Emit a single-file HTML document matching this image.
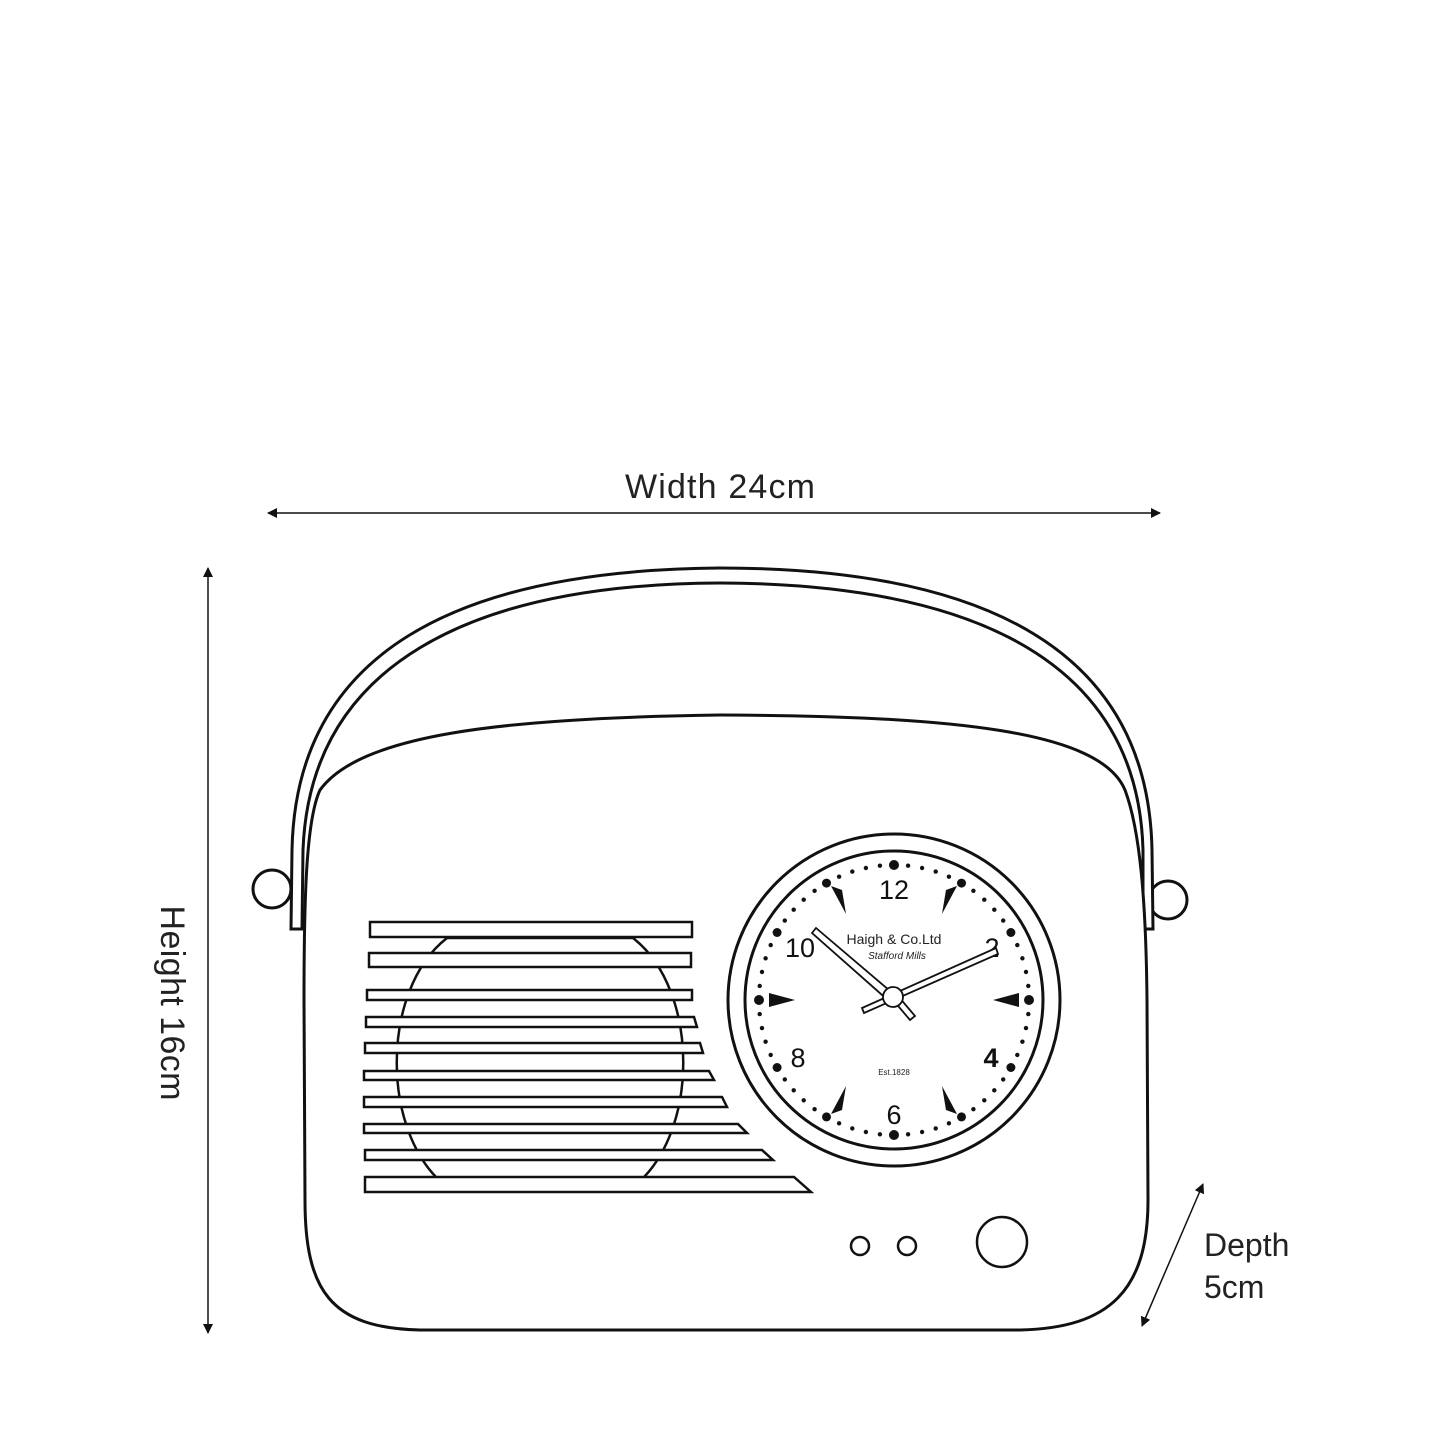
<!DOCTYPE html>
<html><head><meta charset="utf-8"><style>
html,body{margin:0;padding:0;background:#fff;}
svg{display:block;}
text{font-family:"Liberation Sans",sans-serif;}
</style></head><body>
<svg width="1445" height="1445" viewBox="0 0 1445 1445" xmlns="http://www.w3.org/2000/svg">
<defs>
<marker id="ah" viewBox="0 0 10 10" refX="9" refY="5" markerWidth="10" markerHeight="10" markerUnits="userSpaceOnUse" orient="auto-start-reverse"><path d="M0 0 L10 5 L0 10 Z" fill="#111"/></marker>
</defs>
<rect width="1445" height="1445" fill="#fff"/>
<line x1="268" y1="513" x2="1160" y2="513" stroke="#111" stroke-width="1.5" marker-start="url(#ah)" marker-end="url(#ah)"/>
<text x="720" y="498" font-size="34" text-anchor="middle" fill="#222" textLength="190">Width 24cm</text>
<line x1="208" y1="568" x2="208" y2="1333" stroke="#111" stroke-width="1.5" marker-start="url(#ah)" marker-end="url(#ah)"/>
<text x="0" y="0" font-size="34" text-anchor="middle" fill="#222" transform="translate(161,1003) rotate(90)" textLength="195">Height 16cm</text>
<line x1="1203" y1="1184" x2="1142" y2="1326" stroke="#111" stroke-width="1.5" marker-start="url(#ah)" marker-end="url(#ah)"/>
<text x="1204" y="1256" font-size="32" fill="#222">Depth</text>
<text x="1204" y="1298" font-size="32" fill="#222">5cm</text>

<g fill="none" stroke="#111" stroke-width="3">
<circle cx="272" cy="889" r="19" fill="#fff"/>
<circle cx="1168" cy="900" r="19" fill="#fff"/>
<path d="M291 929 L292 850 C296 650 460 570 720 568 C985 568 1148 650 1152 850 L1153 929 L1143 929 L1143 850 C1138 665 980 584 720 583 C470 584 310 665 303 850 L302 929 Z" fill="#fff"/>
<path d="M320 790 C360 735 500 718 720 715 C950 716 1100 730 1125 790 C1140 830 1146 900 1147 1000 L1148 1200 C1148 1290 1110 1328 1020 1330 L420 1330 C330 1328 305 1290 305 1200 L304 1000 C304 900 306 820 320 790 Z" fill="#fff"/>
<path d="M447 938 L633 938 C700 990 700 1135 633 1187 L447 1187 C380 1135 380 990 447 938 Z" stroke-width="2.5"/>
<g fill="#fff" stroke-width="2.5">
<path d="M370 922 L692 922 L692 937 L370 937 Z"/>
<path d="M369 953 L691 953 L691 967 L369 967 Z"/>
<path d="M367 990 L692 990 L692 1000 L367 1000 Z"/>
<path d="M366 1017 L694 1017 L697 1027 L366 1027 Z"/>
<path d="M365 1043 L700 1043 L703 1053 L365 1053 Z"/>
<path d="M364 1071 L709 1071 L714 1080 L364 1080 Z"/>
<path d="M364 1097 L722 1097 L727 1107 L364 1107 Z"/>
<path d="M364 1124 L738 1124 L747 1133 L364 1133 Z"/>
<path d="M365 1150 L762 1150 L773 1160 L365 1160 Z"/>
<path d="M365 1177 L794 1177 L811 1192 L365 1192 Z"/>
</g>
<circle cx="860" cy="1246" r="9" stroke-width="2.5"/>
<circle cx="907" cy="1246" r="9" stroke-width="2.5"/>
<circle cx="1002" cy="1242" r="25" stroke-width="2.5"/>
<circle cx="894" cy="1000" r="166"/>
<circle cx="894" cy="1000" r="149"/>
</g>
<g fill="#111">
<circle cx="894" cy="865" r="5"/><circle cx="1029" cy="1000" r="5"/><circle cx="894" cy="1135" r="5"/><circle cx="759" cy="1000" r="5"/>
<circle cx="961.5" cy="883.1" r="4.5"/><circle cx="1010.9" cy="932.5" r="4.5"/><circle cx="1010.9" cy="1067.5" r="4.5"/><circle cx="961.5" cy="1116.9" r="4.5"/>
<circle cx="826.5" cy="1116.9" r="4.5"/><circle cx="777.1" cy="1067.5" r="4.5"/><circle cx="777.1" cy="932.5" r="4.5"/><circle cx="826.5" cy="883.1" r="4.5"/>
<circle cx="908.1" cy="865.7" r="2.2"/><circle cx="922.1" cy="868" r="2.2"/><circle cx="935.7" cy="871.6" r="2.2"/><circle cx="948.9" cy="876.7" r="2.2"/>
<circle cx="973.4" cy="890.8" r="2.2"/><circle cx="984.3" cy="899.7" r="2.2"/><circle cx="994.3" cy="909.7" r="2.2"/><circle cx="1003.2" cy="920.6" r="2.2"/>
<circle cx="1017.3" cy="945.1" r="2.2"/><circle cx="1022.4" cy="958.3" r="2.2"/><circle cx="1026" cy="971.9" r="2.2"/><circle cx="1028.3" cy="985.9" r="2.2"/>
<circle cx="1028.3" cy="1014.1" r="2.2"/><circle cx="1026" cy="1028.1" r="2.2"/><circle cx="1022.4" cy="1041.7" r="2.2"/><circle cx="1017.3" cy="1054.9" r="2.2"/>
<circle cx="1003.2" cy="1079.4" r="2.2"/><circle cx="994.3" cy="1090.3" r="2.2"/><circle cx="984.3" cy="1100.3" r="2.2"/><circle cx="973.4" cy="1109.2" r="2.2"/>
<circle cx="948.9" cy="1123.3" r="2.2"/><circle cx="935.7" cy="1128.4" r="2.2"/><circle cx="922.1" cy="1132" r="2.2"/><circle cx="908.1" cy="1134.3" r="2.2"/>
<circle cx="879.9" cy="1134.3" r="2.2"/><circle cx="865.9" cy="1132" r="2.2"/><circle cx="852.3" cy="1128.4" r="2.2"/><circle cx="839.1" cy="1123.3" r="2.2"/>
<circle cx="814.6" cy="1109.2" r="2.2"/><circle cx="803.7" cy="1100.3" r="2.2"/><circle cx="793.7" cy="1090.3" r="2.2"/><circle cx="784.8" cy="1079.4" r="2.2"/>
<circle cx="770.7" cy="1054.9" r="2.2"/><circle cx="765.6" cy="1041.7" r="2.2"/><circle cx="762" cy="1028.1" r="2.2"/><circle cx="759.7" cy="1014.1" r="2.2"/>
<circle cx="759.7" cy="985.9" r="2.2"/><circle cx="762" cy="971.9" r="2.2"/><circle cx="765.6" cy="958.3" r="2.2"/><circle cx="770.7" cy="945.1" r="2.2"/>
<circle cx="784.8" cy="920.6" r="2.2"/><circle cx="793.7" cy="909.7" r="2.2"/><circle cx="803.7" cy="899.7" r="2.2"/><circle cx="814.6" cy="890.8" r="2.2"/>
<circle cx="839.1" cy="876.7" r="2.2"/><circle cx="852.3" cy="871.6" r="2.2"/><circle cx="865.9" cy="868" r="2.2"/><circle cx="879.9" cy="865.7" r="2.2"/>
<path d="M957 886 L946 890 L942 914 Z"/>
<path d="M1019 993 L1019 1007 L993 1000 Z"/>
<path d="M957 1114 L946 1110 L942 1086 Z"/>
<path d="M831 1114 L842 1110 L846 1086 Z"/>
<path d="M769 993 L769 1007 L795 1000 Z"/>
<path d="M831 886 L842 890 L846 914 Z"/>
</g>
<g font-size="27" fill="#111" text-anchor="middle">
<text x="894" y="899">12</text>
<text x="992" y="957">2</text>
<text x="991" y="1067" font-weight="bold">4</text>
<text x="894" y="1124">6</text>
<text x="798" y="1067">8</text>
<text x="800" y="957">10</text>
</g>
<text x="894" y="944" font-size="14" text-anchor="middle" fill="#222">Haigh &amp; Co.Ltd</text>
<text x="897" y="959" font-size="10" font-style="italic" text-anchor="middle" fill="#222">Stafford Mills</text>
<text x="894" y="1075" font-size="8" text-anchor="middle" fill="#222">Est.1828</text>
<g fill="#fff" stroke="#111" stroke-width="1.8">
<path d="M812 933 L816 928 L896 996 L890 1002 Z"/>
<path d="M864 1013 L862 1008 L996 948 L998 954 Z"/>
<path d="M888 994 L893 990 L915 1016 L910 1020 Z"/>
<circle cx="893" cy="997" r="10"/>
</g>
</svg>
</body></html>
